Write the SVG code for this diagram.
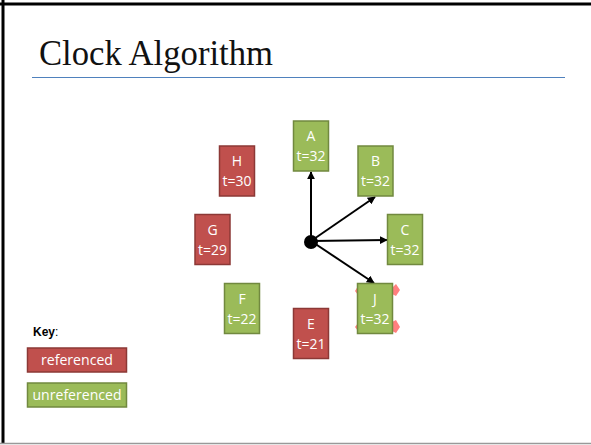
<svg xmlns="http://www.w3.org/2000/svg" width="591" height="445" viewBox="0 0 591 445">
<defs>
<style>
.red{fill:#c0504d;stroke:#8c3836;stroke-width:1.5}
.green{fill:#9bbb59;stroke:#71893f;stroke-width:1.5}
.lbl{font-family:"Open Sans","Liberation Sans",Arial,sans-serif;font-size:14px;fill:#ffffff;text-anchor:middle}
.conn{stroke:#000;stroke-width:2;fill:none;marker-end:url(#ah)}
.pink{fill:#ff7f7f}
</style>
<marker id="ah" viewBox="0 0 10 10" refX="9" refY="5" markerWidth="4" markerHeight="4" orient="auto" markerUnits="strokeWidth">
<path d="M0,0 L10,5 L0,10 z" fill="#000"/>
</marker>
</defs>
<rect x="0" y="0" width="591" height="445" fill="#ffffff"/>
<line x1="0" y1="4" x2="591" y2="4" stroke="#000" stroke-width="3"/>
<line x1="3" y1="0" x2="3" y2="443" stroke="#000" stroke-width="3"/>
<line x1="0" y1="443.5" x2="591" y2="443.5" stroke="#999" stroke-width="1.5"/>
<g id="title">
<text x="39" y="65" font-family="'Liberation Serif','Times New Roman',serif" font-size="36" fill="#111" textLength="234" lengthAdjust="spacingAndGlyphs">Clock Algorithm</text>
<line x1="32" y1="77.5" x2="565" y2="77.5" stroke="#4f81bd" stroke-width="1.2"/>
</g>
<g id="pinkshape">
<polygon class="pink" points="392,288 396,284 400,290 396,296 392,294"/>
<polygon class="pink" points="392,322 396,320 400,327 396,333 392,331"/>
<polygon class="pink" points="358,286 355,291 358,295"/>
<polygon class="pink" points="358,323 355,327 358,331"/>
</g>
<g id="connectors">
<line class="conn" x1="311" y1="241" x2="311" y2="172"/>
<line class="conn" x1="311" y1="241" x2="375" y2="197"/>
<line class="conn" x1="311" y1="241" x2="387" y2="240"/>
<line class="conn" x1="311" y1="241" x2="374" y2="283"/>
<circle cx="311" cy="242" r="7" fill="#000"/>
</g>
<g id="node-A"><rect class="green" x="293.5" y="121" width="35" height="50"/><text class="lbl" x="311" y="141">A</text><text class="lbl" x="311" y="161">t=32</text></g>
<g id="node-B"><rect class="green" x="358" y="146" width="35" height="50"/><text class="lbl" x="375.5" y="166">B</text><text class="lbl" x="375.5" y="186">t=32</text></g>
<g id="node-C"><rect class="green" x="387.5" y="214.5" width="35" height="50"/><text class="lbl" x="405" y="234.5">C</text><text class="lbl" x="405" y="254.5">t=32</text></g>
<g id="node-J"><rect class="green" x="357.5" y="283.5" width="35" height="50"/><text class="lbl" x="375" y="303.5">J</text><text class="lbl" x="375" y="323.5">t=32</text></g>
<g id="node-E"><rect class="red" x="293.5" y="308.5" width="35" height="50"/><text class="lbl" x="311" y="328.5">E</text><text class="lbl" x="311" y="348.5">t=21</text></g>
<g id="node-F"><rect class="green" x="224.5" y="283.5" width="35" height="50"/><text class="lbl" x="242" y="303.5">F</text><text class="lbl" x="242" y="323.5">t=22</text></g>
<g id="node-G"><rect class="red" x="195" y="214.5" width="35" height="50"/><text class="lbl" x="212.5" y="234.5">G</text><text class="lbl" x="212.5" y="254.5">t=29</text></g>
<g id="node-H"><rect class="red" x="219.5" y="146" width="35" height="50"/><text class="lbl" x="237" y="166">H</text><text class="lbl" x="237" y="186">t=30</text></g>
<g id="key">
<text x="33" y="336" font-family="'Liberation Sans',Arial,sans-serif" font-size="12" fill="#000"><tspan font-weight="bold">Key</tspan>:</text>
<rect class="red" x="27.5" y="348" width="99" height="24"/>
<text class="lbl" x="77" y="365" textLength="72" lengthAdjust="spacingAndGlyphs">referenced</text>
<rect class="green" x="27.5" y="383" width="99" height="24"/>
<text class="lbl" x="77" y="400" textLength="89" lengthAdjust="spacingAndGlyphs">unreferenced</text>
</g>
</svg>
